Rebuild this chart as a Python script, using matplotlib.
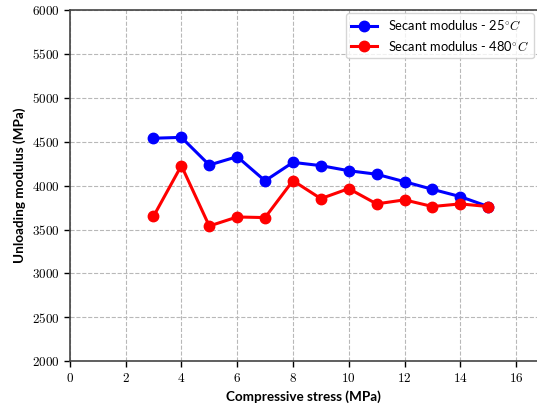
import matplotlib
matplotlib.use("Agg")
import matplotlib.pyplot as plt

stress = [3, 4, 5, 6, 7, 8, 9, 10, 11, 12, 13, 14, 15]
modulus_25 = [4540, 4550, 4235, 4330, 4055, 4265, 4228, 4170, 4130, 4045, 3958, 3875, 3762]
modulus_480 = [3650, 4228, 3540, 3643, 3636, 4057, 3852, 3966, 3792, 3838, 3762, 3792, 3762]
label_25 = r"Secant modulus - 25$^{\circ}C$"
label_480 = r"Secant modulus - 480$^{\circ}C$"
xlabel = "Compressive stress (MPa)"
ylabel = "Unloading modulus (MPa)"
xticks = list(range(0, 17, 2))
yticks = list(range(2000, 6001, 500))

plt.rcParams['mathtext.fontset'] = 'cm'

fig = plt.figure(figsize=(5.37, 4.04), dpi=100)
ax = fig.add_axes([0.130, 0.106, 0.870, 0.869])

ax.plot(stress, modulus_25, color='blue', marker='o', lw=2.2, ms=7.5, label=label_25)
ax.plot(stress, modulus_480, color='red', marker='o', lw=2.2, ms=7.5, label=label_480)

ax.set_xlim(0, 16.75)
ax.set_ylim(2000, 6000)
ax.set_xticks(xticks)
ax.set_yticks(yticks)
ax.set_xticklabels([f"${t}$" for t in xticks], fontsize=9.5)
ax.set_yticklabels([f"${t}$" for t in yticks], fontsize=9.5)
ax.tick_params(direction='out', length=4, width=1)

ax.grid(True, linestyle='--', color='#b8b8b8', linewidth=0.8)
ax.set_axisbelow(True)
ax.spines['right'].set_visible(False)
for s in ['left', 'bottom', 'top']:
    ax.spines[s].set_color('#444444')
    ax.spines[s].set_linewidth(1.2)

ax.set_xlabel(xlabel, fontsize=9.75, fontweight='bold', family='Lato')
ax.set_ylabel(ylabel, fontsize=9.75, fontweight='bold', family='Lato')

leg = ax.legend(loc='upper right', frameon=True, prop={'family': 'Lato', 'size': 9.3},
                borderaxespad=0.25, handlelength=2.0)
leg.get_frame().set_edgecolor('#cccccc')

fig.savefig("out.png", dpi=100)
